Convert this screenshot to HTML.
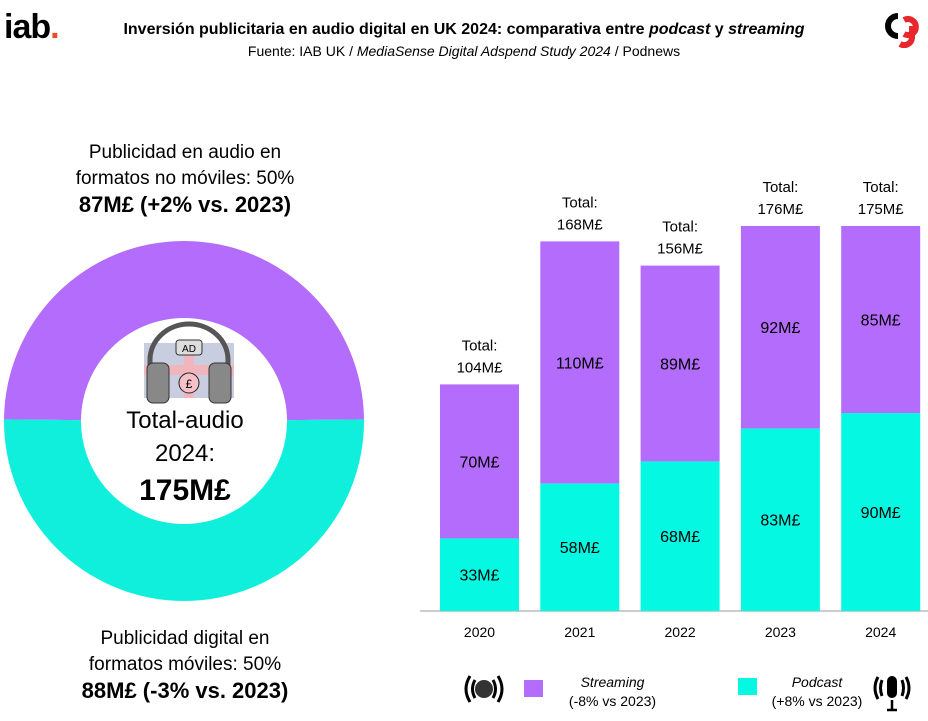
<!DOCTYPE html>
<html><head><meta charset="utf-8"><style>
body{margin:0;width:928px;height:721px;background:#fff;font-family:"Liberation Sans",sans-serif;overflow:hidden;position:relative}
.t{position:absolute;text-align:center;color:#000}
</style></head><body>
<div class="t" style="left:4px;top:8px;font-size:34px;font-weight:bold;letter-spacing:-1px">iab<span style="color:#f04a23">.</span></div>
<div class="t" style="left:0;width:928px;top:21px;font-size:16px;font-weight:bold">Inversión publicitaria en audio digital en UK 2024: comparativa entre <i>podcast</i> y <i>streaming</i></div>
<div class="t" style="left:0;width:928px;top:43px;font-size:14px">Fuente: IAB UK / <i>MediaSense Digital Adspend Study 2024</i> / Podnews</div>
<svg style="position:absolute;left:880px;top:8px" width="42" height="40"><path d="M18 8 A10 10 0 1 0 18 28" stroke="#000" stroke-width="6" fill="none"/><path d="M24 12 A8 8 0 1 1 24 26 M32 18 V30 A8 8 0 0 1 20 36" stroke="#e8262b" stroke-width="6" fill="none"/></svg>

<div class="t" style="left:40px;width:290px;top:140px;font-size:19px;line-height:26px">Publicidad en audio en<br>formatos no móviles: 50%<br><b style="font-size:22px">87M£ (+2% vs. 2023)</b></div>
<div class="t" style="left:40px;width:290px;top:626px;font-size:19px;line-height:26px">Publicidad digital en<br>formatos móviles: 50%<br><b style="font-size:22px">88M£ (-3% vs. 2023)</b></div>

<svg id="donut" style="position:absolute;left:0;top:0" width="380" height="721"></svg>
<div class="t" style="left:85px;width:200px;top:404px;font-size:24px;line-height:33px">Total-audio<br>2024:<br><b style="font-size:30px;line-height:42px">175M£</b></div>

<svg id="bars" style="position:absolute;left:420px;top:150px" width="508" height="500"></svg>

<svg style="position:absolute;left:462px;top:672px" width="44" height="34"><path d="M8 4 Q0 17 8 30 M13 8 Q8 17 13 26 M36 4 Q44 17 36 30 M31 8 Q36 17 31 26" stroke="#000" stroke-width="3" fill="none"/><circle cx="22" cy="17" r="9" fill="#333"/></svg>
<div style="position:absolute;left:524px;top:680px;width:19px;height:17px;background:#b36cfc"></div>
<div class="t" style="left:555px;width:115px;top:673px;font-size:14px;line-height:19px"><i>Streaming</i><br>(-8% vs 2023)</div>
<div style="position:absolute;left:738px;top:678px;width:19px;height:17px;background:#05f9e2"></div>
<div class="t" style="left:762px;width:110px;top:673px;font-size:14px;line-height:19px"><i>Podcast</i><br>(+8% vs 2023)</div>
<svg style="position:absolute;left:872px;top:672px" width="40" height="42"><path d="M6 5 Q0 16 6 27 M10 8 Q7 16 10 24 M34 5 Q40 16 34 27 M30 8 Q33 16 30 24" stroke="#000" stroke-width="3" fill="none"/><rect x="15" y="4" width="10" height="22" rx="5" fill="#000"/><path d="M20 28V38M15 38H25" stroke="#000" stroke-width="2.5"/></svg>

<script>
const NS='http://www.w3.org/2000/svg';
function mk(p,t,a){const e=document.createElementNS(NS,t);for(const k in a)e.setAttribute(k,a[k]);p.appendChild(e);return e;}
// donut
const donutLabels=['Streaming no móviles','Móviles'];
const donutValues=[87,88];
const donutColors=['#b36cfc','#10efdc'];
const d=document.getElementById('donut');
const cx=184,cy=421,R=180,r=103;
let tot=donutValues.reduce((a,b)=>a+b,0);
let ang=-Math.PI/2-donutValues[0]/tot*Math.PI;
donutValues.forEach((v,i)=>{
  const a0=ang,a1=ang+v/tot*2*Math.PI;ang=a1;
  const p=(rr,a)=>[cx+rr*Math.cos(a),cy+rr*Math.sin(a)];
  const [x0,y0]=p(R,a0),[x1,y1]=p(R,a1),[x2,y2]=p(r,a1),[x3,y3]=p(r,a0);
  const lg=(a1-a0)>Math.PI?1:0;
  const el=mk(d,'path',{d:`M${x0},${y0}A${R},${R} 0 ${lg} 1 ${x1},${y1}L${x2},${y2}A${r},${r} 0 ${lg} 0 ${x3},${y3}Z`,fill:donutColors[i]});
  
  
});
// headphones icon
const g=mk(d,'g',{});


mk(g,'rect',{x:144,y:343,width:90,height:55,fill:'#c9cde0'});
mk(g,'path',{d:'M144,370H234M189,343V398',stroke:'#f0b5bd','stroke-width':10});
mk(g,'path',{d:'M150,380 V360 A39,36 0 0 1 228,360 V380',stroke:'#555','stroke-width':5,fill:'none'});
mk(g,'rect',{x:176,y:340,width:26,height:15,rx:3,fill:'#ddd',stroke:'#333'});
mk(g,'rect',{x:147,y:363,width:22,height:40,rx:6,fill:'#888',stroke:'#333'});
mk(g,'rect',{x:209,y:363,width:22,height:40,rx:6,fill:'#888',stroke:'#333'});
mk(g,'circle',{cx:189,cy:383,r:10,fill:'#f5c0c8',stroke:'#222'});
const ad=mk(g,'text',{x:189,y:352,'font-size':10,'text-anchor':'middle','font-family':'Liberation Sans'});ad.textContent='AD';
const pd=mk(g,'text',{x:189,y:388,'font-size':12,'text-anchor':'middle','font-family':'Liberation Sans'});pd.textContent='£';

// bars
const years=['2020','2021','2022','2023','2024'];
const podcast=[33,58,68,83,90];
const streaming=[70,110,89,92,85];
const totals=[104,168,156,176,175];
const b=document.getElementById('bars');
const base=461, k=2.2; // local coords (svg top=150)
const y=v=>base-v*k;
const bx=i=>20+i*100.3, bw=79;
mk(b,'line',{x1:0,x2:508,y1:base,y2:base,stroke:'#999','stroke-width':1});
function txt(x,yy,s,sz,w,name){const t=mk(b,'text',{x:x,y:yy,'font-size':sz,'text-anchor':'middle','font-family':'Liberation Sans','font-weight':w||'normal'});t.textContent=s;return t;}
years.forEach((yr,i)=>{
  const x=bx(i),cxb=x+bw/2;
  const p=mk(b,'rect',{x:x,y:y(podcast[i]),width:bw,height:podcast[i]*k,fill:'#05f9e2'});
  
  
  const s=mk(b,'rect',{x:x,y:y(podcast[i]+streaming[i]),width:bw,height:streaming[i]*k,fill:'#b36cfc'});
  
  
  txt(cxb,y(podcast[i]/2)+6,podcast[i]+'M£',16,'normal','podcast-value-'+yr);
  txt(cxb,y(podcast[i]+streaming[i]/2)+6,streaming[i]+'M£',16,'normal','streaming-value-'+yr);
  const top=y(podcast[i]+streaming[i]);
  txt(cxb,top-34,'Total:',15,'normal','total-label-'+yr);
  txt(cxb,top-12,totals[i]+'M£',15,'normal','total-value-'+yr);
  txt(cxb,base+26,yr,14,'normal','x-tick-'+yr);
});
</script>
</body></html>
